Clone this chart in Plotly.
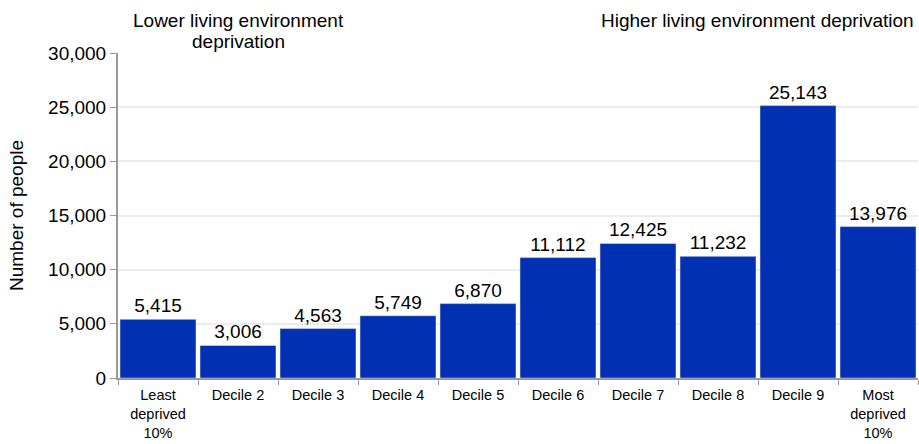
import plotly.graph_objects as go

categories = ["Least<br>deprived<br>10%", "Decile 2", "Decile 3", "Decile 4", "Decile 5",
              "Decile 6", "Decile 7", "Decile 8", "Decile 9", "Most<br>deprived<br>10%"]
people = [5415, 3006, 4563, 5749, 6870, 11112, 12425, 11232, 25143, 13976]
y_ticks = [0, 5000, 10000, 15000, 20000, 25000, 30000]

font_family = "Liberation Sans, Arial, sans-serif"

fig = go.Figure()
fig.add_trace(go.Bar(
    x=categories, y=people,
    marker_color="#0230b2",
    text=[f"{v:,}" for v in people],
    textposition="outside",
    textfont=dict(size=19, color="#000"),
    cliponaxis=False,
))

fig.update_layout(
    width=919, height=444,
    margin=dict(l=118, r=1, t=53, b=66),
    plot_bgcolor="white", paper_bgcolor="white",
    font=dict(family=font_family, color="#000"),
    bargap=0.05,
    showlegend=False,
)
fig.update_xaxes(
    tickfont=dict(size=14.5),
    ticks="outside", tickson="boundaries", ticklen=5, tickcolor="#999",
    ticklabelstandoff=3, automargin=False,
    showline=True, linecolor="#999", linewidth=2,
    showgrid=False,
)
fig.update_yaxes(
    range=[0, 30000], tickvals=y_ticks, tickformat=",",
    tickfont=dict(size=19),
    ticks="outside", ticklen=6, tickcolor="#999",
    showline=True, linecolor="#999", linewidth=2,
    showgrid=True, gridcolor="#ececec", gridwidth=2,
    zeroline=False,
    title=dict(text="Number of people", font=dict(size=19), standoff=19),
)

# header notes above the plot
fig.add_annotation(text="Lower living environment", xref="paper", yref="paper",
                   x=0.151, y=1.0, xanchor="center", yanchor="middle", yshift=33,
                   showarrow=False, font=dict(size=19))
fig.add_annotation(text="deprivation", xref="paper", yref="paper",
                   x=0.151, y=1.0, xanchor="center", yanchor="middle", yshift=12,
                   showarrow=False, font=dict(size=19))
fig.add_annotation(text="Higher living environment deprivation", xref="paper", yref="paper",
                   x=0.997, y=1.0, xanchor="right", yanchor="middle", yshift=33,
                   showarrow=False, font=dict(size=19))

fig.write_html("out.html", config={"displayModeBar": False},
               post_script="document.body.style.margin='0';")
